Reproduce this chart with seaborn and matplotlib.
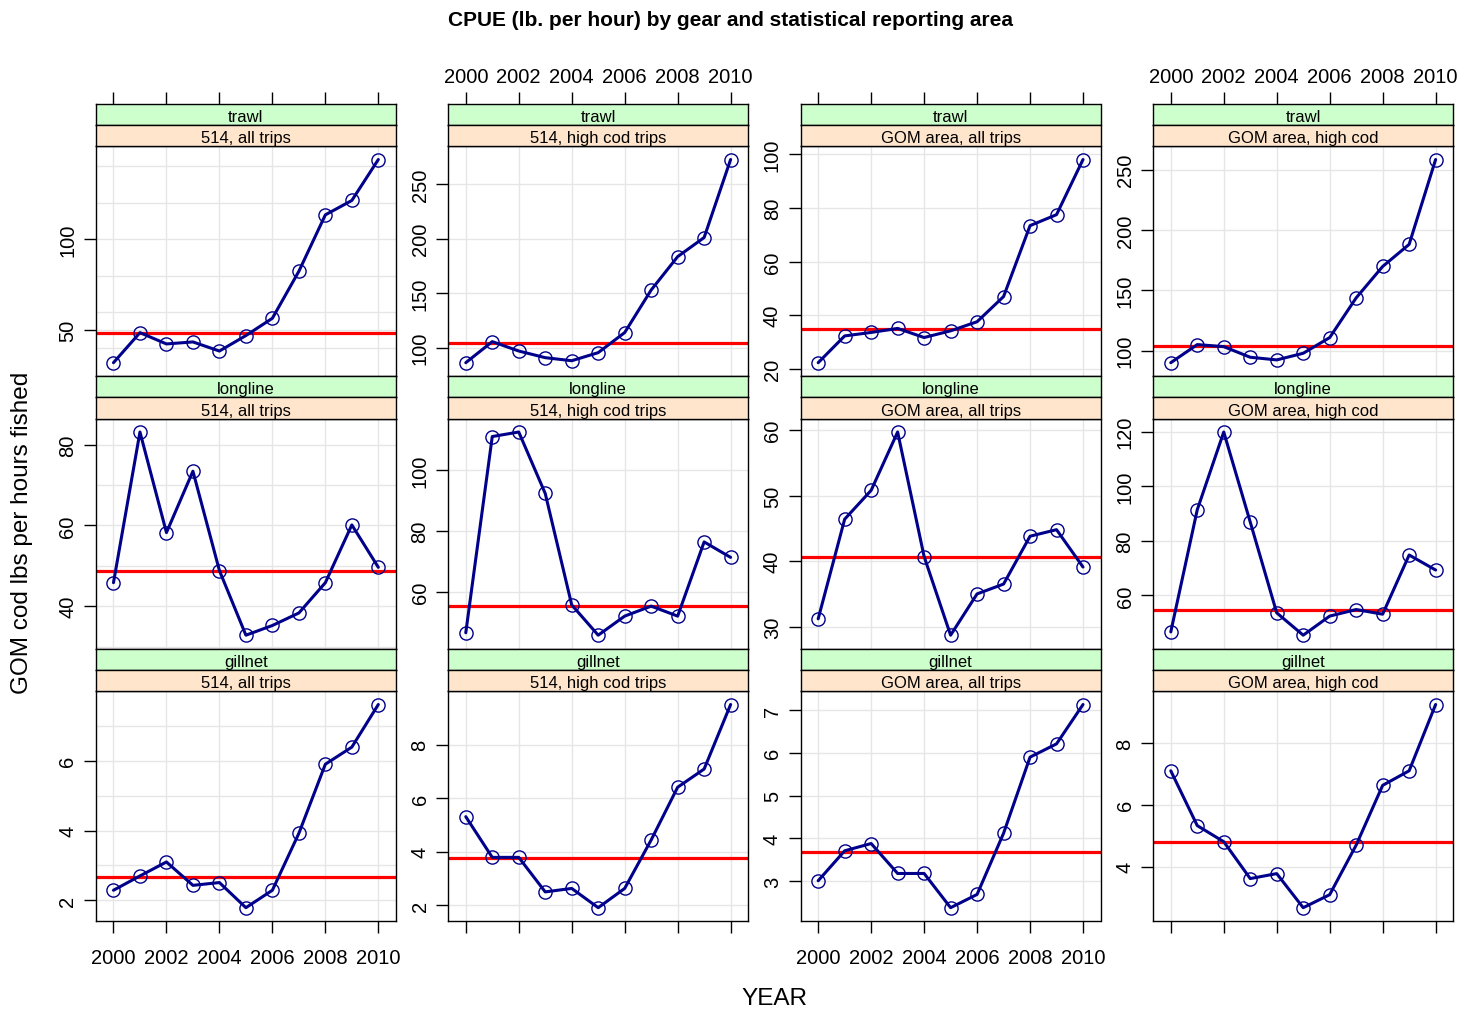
import numpy as np
import pandas as pd
import matplotlib
matplotlib.use("Agg")
import matplotlib.pyplot as plt
import seaborn as sns

# ---- data -------------------------------------------------------------
years = list(range(2000, 2011))
gears = ["trawl", "longline", "gillnet"]
areas = ["514, all trips", "514, high cod trips",
         "GOM area, all trips", "GOM area, high cod"]

trawl_514_all = [32.2, 48.7, 42.5, 43.6, 38.6, 47.1, 56.6, 82.4, 113.4, 121.3, 143.8]
trawl_514_high = [86.2, 105.5, 96.9, 90.8, 88.0, 95.4, 113.8, 152.8, 183.4, 200.9, 272.4]
trawl_gom_all = [22.2, 32.2, 33.5, 35.0, 31.6, 34.1, 37.5, 46.9, 73.4, 77.5, 98.1]
trawl_gom_high = [90.0, 105.0, 103.3, 94.5, 92.3, 97.8, 110.8, 143.7, 169.7, 188.0, 258.3]

longline_514_all = [45.8, 83.1, 58.2, 73.4, 48.8, 32.8, 35.2, 38.3, 45.8, 60.1, 49.6]
longline_514_high = [46.4, 111.2, 112.7, 92.4, 55.6, 45.6, 51.9, 55.2, 51.9, 76.4, 71.3]
longline_gom_all = [31.2, 46.4, 50.8, 59.7, 40.7, 28.7, 35.0, 36.5, 43.8, 44.8, 39.1]
longline_gom_high = [46.6, 91.4, 119.9, 86.9, 53.6, 45.4, 52.4, 54.8, 53.1, 74.8, 69.3]

gillnet_514_all = [2.29, 2.70, 3.10, 2.43, 2.51, 1.79, 2.29, 3.92, 5.90, 6.39, 7.61]
gillnet_514_high = [5.31, 3.79, 3.79, 2.50, 2.63, 1.91, 2.63, 4.44, 6.41, 7.09, 9.50]
gillnet_gom_all = [3.01, 3.71, 3.88, 3.18, 3.18, 2.38, 2.69, 4.12, 5.90, 6.21, 7.13]
gillnet_gom_high = [7.10, 5.33, 4.81, 3.62, 3.78, 2.68, 3.10, 4.70, 6.63, 7.10, 9.24]

# median CPUE of each gear/area series (red reference line)
median_cpue = [
    [48.3, 104.6, 34.9, 103.9],
    [48.7, 55.4, 40.6, 54.6],
    [2.68, 3.78, 3.69, 4.79],
]

# y-axis tick values per panel
y_ticks = [
    [[50, 100], [100, 150, 200, 250], [20, 40, 60, 80, 100], [100, 150, 200, 250]],
    [[40, 60, 80], [60, 80, 100], [30, 40, 50, 60], [60, 80, 100, 120]],
    [[2, 4, 6], [2, 4, 6, 8], [3, 4, 5, 6, 7], [4, 6, 8]],
]
# horizontal grid levels for the first column
grid_first_col = [
    [40, 60, 80, 100, 120, 140],
    [30, 40, 50, 60, 70, 80],
    [2, 3, 4, 5, 6, 7],
]
x_ticks = [2000, 2002, 2004, 2006, 2008, 2010]

series = {
    ("trawl", areas[0]): trawl_514_all,
    ("trawl", areas[1]): trawl_514_high,
    ("trawl", areas[2]): trawl_gom_all,
    ("trawl", areas[3]): trawl_gom_high,
    ("longline", areas[0]): longline_514_all,
    ("longline", areas[1]): longline_514_high,
    ("longline", areas[2]): longline_gom_all,
    ("longline", areas[3]): longline_gom_high,
    ("gillnet", areas[0]): gillnet_514_all,
    ("gillnet", areas[1]): gillnet_514_high,
    ("gillnet", areas[2]): gillnet_gom_all,
    ("gillnet", areas[3]): gillnet_gom_high,
}
rows = []
for (g, a), vals in series.items():
    for y, v in zip(years, vals):
        rows.append({"gear": g, "area": a, "year": y, "cpue": v})
df = pd.DataFrame(rows)

# ---- style ------------------------------------------------------------
sns.set_style("white")
plt.rcParams["font.family"] = ["Liberation Sans", "DejaVu Sans"]
plt.rcParams["text.color"] = "black"
plt.rcParams["axes.labelcolor"] = "black"
plt.rcParams["xtick.color"] = "black"
plt.rcParams["ytick.color"] = "black"

W, H = 1460, 1012
fig = plt.figure(figsize=(W / 100, H / 100), dpi=100)


def box(x, y, w, h):
    """Figure rectangle from a pixel box measured from the top-left."""
    return [x / W, 1 - (y + h) / H, w / W, h / H]


col_left = [96.0, 448.3, 800.7, 1153.3]
col_w = 299.8
row_top = [104.7, 377.2, 649.7]
strip_h = 21.2
panel_h = 230.0

LINE = "#00008B"
GRID = "#E6E6E6"
STRIP_OUTER = "#CCFFCC"
STRIP_INNER = "#FFE5CC"
TICK_KW = dict(direction="out", length=8.5, width=1.0, labelsize=14.5)

for r, gear in enumerate(gears):
    for c, area in enumerate(areas):
        top = row_top[r]
        ax = fig.add_axes(box(col_left[c], top + 2 * strip_h, col_w, panel_h))
        sub = df[(df["gear"] == gear) & (df["area"] == area)]
        sns.lineplot(data=sub, x="year", y="cpue", ax=ax, color=LINE,
                     linewidth=2.2, marker="o", markersize=9.5,
                     markerfacecolor="none", markeredgecolor=LINE,
                     markeredgewidth=1.0, zorder=3)
        ax.axhline(median_cpue[r][c], color="#FF0000", lw=2.3, zorder=2)
        ax.margins(x=0.066, y=0.066)
        ax.autoscale_view()
        xl, yl = ax.get_xlim(), ax.get_ylim()

        ax.set_xticks(x_ticks)
        ax.set_yticks(y_ticks[r][c])
        if c == 0:
            ax.set_yticks(grid_first_col[r], minor=True)
        ax.set_xlim(xl)
        ax.set_ylim(yl)
        ax.set_xlabel("")
        ax.set_ylabel("")
        ax.grid(which="both", color=GRID, lw=1.0)
        ax.set_axisbelow(True)

        for sp in ax.spines.values():
            sp.set_color("black")
            sp.set_linewidth(1.0)

        ax.tick_params(axis="y", which="minor", length=0, left=False)
        ax.tick_params(axis="y", which="major", left=True,
                       labelrotation=90, pad=5, **TICK_KW)
        for lab in ax.get_yticklabels():
            lab.set_va("center")

        if r == len(gears) - 1:
            ax.tick_params(axis="x", bottom=True, labelbottom=(c in (0, 2)),
                           top=False, labeltop=False, pad=11, **TICK_KW)
        else:
            ax.tick_params(axis="x", bottom=False, labelbottom=False,
                           top=False, labeltop=False)
        ax.tick_params(axis="x", which="minor", length=0)

        # strips: gear on top, area below
        for k, (txt, col) in enumerate([(gear, STRIP_OUTER), (area, STRIP_INNER)]):
            s = fig.add_axes(box(col_left[c], top + k * strip_h, col_w, strip_h))
            s.set_facecolor(col)
            s.set_xlim(xl)
            s.set_ylim(0, 1)
            s.set_yticks([])
            if r == 0 and k == 0:
                # top year axis sits above the first row of strips
                s.set_xticks(x_ticks)
                s.tick_params(axis="x", bottom=False, labelbottom=False,
                              top=True, labeltop=(c in (1, 3)), pad=4,
                              **TICK_KW)
            else:
                s.set_xticks([])
            for sp in s.spines.values():
                sp.set_color("black")
                sp.set_linewidth(1.0)
            s.text(0.5, 0.40, txt, ha="center", va="center",
                   fontsize=12, transform=s.transAxes)

fig.text(731 / W, 1 - 21 / H,
         "CPUE (lb. per hour) by gear and statistical reporting area",
         ha="center", va="center", fontsize=15, fontweight="bold")
fig.text(22 / W, 1 - 533 / H, "GOM cod lbs per hours fished",
         rotation=90, ha="center", va="center", fontsize=17.5)
fig.text(774 / W, 1 - 999 / H, "YEAR", ha="center", va="center", fontsize=17.5)

fig.savefig("out.png", dpi=100, facecolor="white")
